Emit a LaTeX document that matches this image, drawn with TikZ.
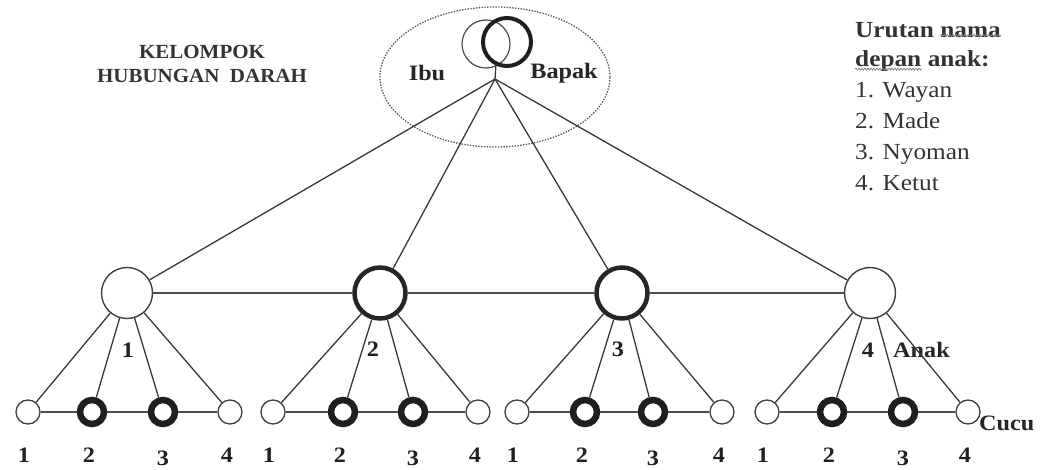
\documentclass[tikz,border=0pt]{standalone}
\usepackage{fontspec}
\setmainfont{Liberation Serif}
\usetikzlibrary{decorations.pathmorphing,shapes.geometric}
\tikzset{
  link/.style={draw=black!78,line width=1.3pt},
  bar/.style={draw=black!70,line width=2pt},
  bigthin/.style={circle,draw=black!75,line width=1.4pt,minimum size=51pt,inner sep=0pt,fill=white},
  bigthick/.style={circle,draw=black!85,line width=4.5pt,minimum size=51pt,inner sep=0pt,fill=white},
  smthin/.style={circle,draw=black!75,line width=1.3pt,minimum size=24pt,inner sep=0pt,fill=white},
  smthick/.style={circle,draw=black!88,line width=6.5pt,minimum size=24pt,inner sep=0pt,fill=white},
  lbl/.style={font=\fontsize{22}{26}\selectfont\bfseries,inner sep=0pt,xscale=1.1,text=black!85},
  num/.style={font=\fontsize{22}{24}\selectfont\bfseries,inner sep=0pt,text=black!88,xscale=1.1},
  txt/.style={font=\fontsize{23}{27}\selectfont,inner sep=0pt,anchor=base west,text=black!80,xscale=1.1},
  txtb/.style={txt,font=\fontsize{23}{27}\selectfont\bfseries},
  squig/.style={draw=black!50,line width=0.7pt,decorate,decoration={snake,amplitude=1pt,segment length=3pt}},
  dotell/.style={draw=black!65,line width=1.3pt,dash pattern=on 1.4pt off 1.4pt},
}
\begin{document}
\begin{tikzpicture}[x=1pt,y=-1pt]
\useasboundingbox (0,0) rectangle (1042,470);

% parents
\node[dotell,ellipse,minimum width=230pt,minimum height=140pt,inner sep=0pt] (ell) at (495,77) {};
\node[circle,draw=black!70,line width=1.2pt,minimum size=48pt,inner sep=0pt] (ibuc) at (486,44) {};
\node[circle,draw=black!88,line width=4pt,minimum size=48pt,inner sep=0pt] (bapc) at (507,42) {};
\coordinate (st) at (496,64);
\coordinate (J) at (495,79);
\draw[link] (st) -- (J);
\node[lbl] (ibu) at (427,73) {Ibu};
\node[lbl] (bapak) at (564,73) {Bapak};

% children
\node[bigthin] (c1) at (127,293) {};
\node[bigthick] (c2) at (380,293) {};
\node[bigthick] (c3) at (622,293) {};
\node[bigthin] (c4) at (870,293) {};
\draw[bar] (c1) -- (c2);
\draw[bar] (c2) -- (c3);
\draw[bar] (c3) -- (c4);
\foreach \c in {c1,c2,c3,c4} \draw[link] (J) -- (\c);

\node[num] (n1) at (128,350) {1};
\node[num] (n2) at (373,349) {2};
\node[num] (n3) at (618,349) {3};
\node[num] (n4) at (868,350) {4};
\node[lbl,anchor=west] (anak) at (893,350) {Anak};

% grandchildren
\foreach \g/\xa/\xb/\xc/\xd in {1/28/92/163/230, 2/273/343/413/478, 3/517/585/653/722, 4/767/832/903/968}{
  \node[smthin]  (g\g a) at (\xa,412) {};
  \node[smthick] (g\g b) at (\xb,412) {};
  \node[smthick] (g\g c) at (\xc,412) {};
  \node[smthin]  (g\g d) at (\xd,412) {};
  \draw[bar] (g\g a) -- (g\g b);
  \draw[bar] (g\g b) -- (g\g c);
  \draw[bar] (g\g c) -- (g\g d);
  \foreach \k in {a,b,c,d} \draw[link] (c\g) -- (g\g\k);
  \node[num] (l\g a) at (\xa-4,455) {1};
  \node[num] (l\g b) at (\xb-3,455) {2};
  \node[num] (l\g c) at (\xc,458) {3};
  \node[num] (l\g d) at (\xd-3,455) {4};
}
\node[lbl,anchor=west] (cucu) at (979,423) {Cucu};

% title
\node[font=\fontsize{20}{24}\selectfont\bfseries,text=black!80,align=center,inner sep=0pt,xscale=1.05] (title) at (202,64) {KELOMPOK\\HUBUNGAN~~DARAH};

% legend
\node[txtb] (u1) at (855,38) {Urutan};
\node[txtb] (u2) at ([xshift=6pt]u1.base east) {nama};
\node[txtb] (u3) at (855,67) {depan};
\node[txtb] (u4) at ([xshift=6pt]u3.base east) {anak:};
\draw[squig] ([yshift=3pt]u2.south west) -- ([yshift=3pt]u2.south east);
\draw[squig] ([yshift=3pt]u3.south west) -- ([yshift=3pt]u3.south east);
\node[txt] (w1) at (855,98) {1. Wayan};
\node[txt] (w2) at (855,129) {2. Made};
\node[txt] (w3) at (855,160) {3. Nyoman};
\node[txt] (w4) at (855,191) {4. Ketut};
\end{tikzpicture}
\end{document}
